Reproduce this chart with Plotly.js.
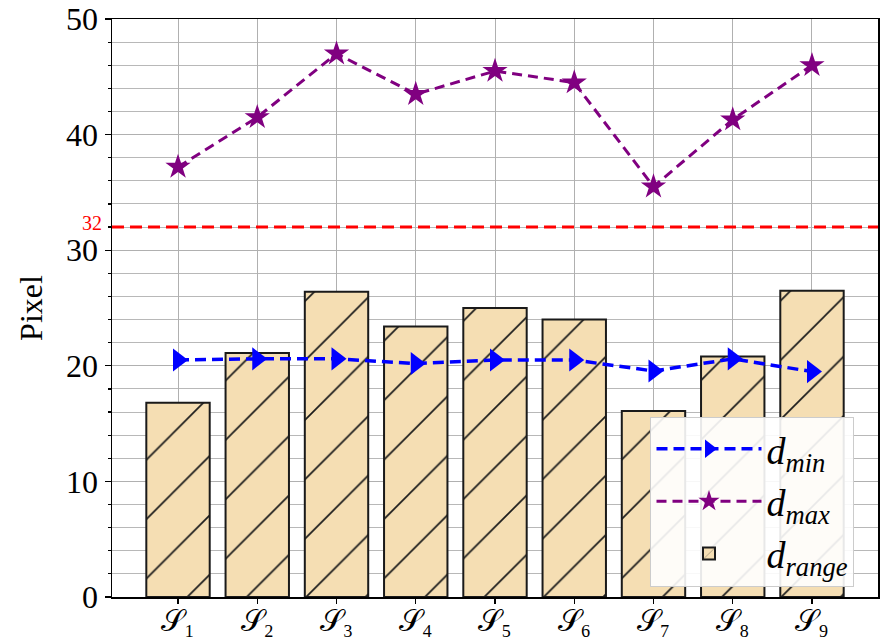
<!DOCTYPE html>
<html>
<head>
<meta charset="utf-8">
<script src="https://cdn.plot.ly/plotly-3.0.1.min.js"></script>
<style>html,body{margin:0;padding:0;background:#fff;}#chart{width:890px;height:642px;}</style>
</head>
<body>
<div id="chart"></div>
<script>
const categories = ["𝒮₁","𝒮₂","𝒮₃","𝒮₄","𝒮₅","𝒮₆","𝒮₇","𝒮₈","𝒮₉"];
const dRange = [16.8, 21.1, 26.4, 23.4, 25.0, 24.0, 16.1, 20.8, 26.5];
const dMin = [20.5, 20.6, 20.6, 20.2, 20.5, 20.5, 19.55, 20.6, 19.5];
const dMax = [37.2, 41.5, 47.0, 43.5, 45.5, 44.5, 35.5, 41.3, 46.0];
const threshold = 32;
const yTickVals = [0, 10, 20, 30, 40, 50];

const serif = "Liberation Serif, Times New Roman, serif";
const idx = categories.map((_, i) => i);

const traces = [
  {
    type: "bar", x: idx, y: dRange, width: 0.8,
    name: "<i>d</i><sub><i>range</i></sub>", legendrank: 3,
    marker: {color: "#F5DEB3", line: {color: "#1a1a1a", width: 2},
      pattern: {shape: "/", fgcolor: "#1a1a1a", bgcolor: "#F5DEB3", fillmode: "replace", size: 42, solidity: 0.04}}
  },
  {
    type: "scatter", mode: "lines+markers", x: idx, y: dMin,
    name: "<i>d</i><sub><i>min</i></sub>", legendrank: 1,
    line: {color: "#0000FF", width: 3.5, dash: "11px,6px"},
    marker: {symbol: "triangle-right", size: 20, color: "#0000FF"}
  },
  {
    type: "scatter", mode: "lines+markers", x: idx, y: dMax,
    name: "<i>d</i><sub><i>max</i></sub>", legendrank: 2,
    line: {color: "#800080", width: 3, dash: "10px,6px"},
    marker: {symbol: "star", size: 19, color: "#800080"}
  }
];

const layout = {
  width: 890, height: 642,
  margin: {l: 112, r: 12, t: 19, b: 45, pad: 0},
  paper_bgcolor: "#fff", plot_bgcolor: "#fff",
  font: {family: serif, color: "#000", size: 30},
  showlegend: true,
  bargap: 0.2,
  xaxis: {
    range: [-0.833, 8.833], tickvals: idx, ticktext: categories,
    showgrid: true, gridcolor: "#b0b0b0", gridwidth: 1,
    ticks: "outside", ticklen: 5, tickwidth: 1.2, tickcolor: "#000",
    showline: true, linecolor: "#000", linewidth: 1.5, mirror: true,
    tickfont: {size: 30, family: serif}, zeroline: false,
    ticklabelstandoff: -9
  },
  yaxis: {
    range: [0, 50], tickvals: yTickVals,
    showgrid: true, gridcolor: "#b0b0b0", gridwidth: 1,
    ticks: "outside", ticklen: 6, tickwidth: 1.2, tickcolor: "#000",
    minor: {dtick: 2, tick0: 0, ticks: "outside", ticklen: 3, tickcolor: "#000", showgrid: true, gridcolor: "#b8b8b8", gridwidth: 1},
    showline: true, linecolor: "#000", linewidth: 1.5, mirror: true,
    tickfont: {size: 32, family: serif}, zeroline: false,
    title: {text: "Pixel", font: {size: 32, family: serif}, standoff: 14}
  },
  shapes: [{
    type: "line", xref: "paper", yref: "y", x0: 0, x1: 1, y0: threshold, y1: threshold,
    line: {color: "#FF0000", width: 3, dash: "12px,6px"}
  }],
  annotations: [{
    xref: "paper", yref: "y", x: 0, y: threshold, xanchor: "right", yanchor: "middle",
    xshift: -8, yshift: 4, text: String(threshold), showarrow: false,
    font: {size: 20, color: "#FF0000", family: serif}
  }],
  legend: {
    x: 0.703, y: 0.018, xanchor: "left", yanchor: "bottom",
    bgcolor: "rgba(255,255,255,0.9)", bordercolor: "#cccccc", borderwidth: 1,
    font: {size: 38, family: serif}, traceorder: "normal", itemwidth: 105
  }
};

Plotly.newPlot("chart", traces, layout, {displayModeBar: false, staticPlot: true});
</script>
</body>
</html>
